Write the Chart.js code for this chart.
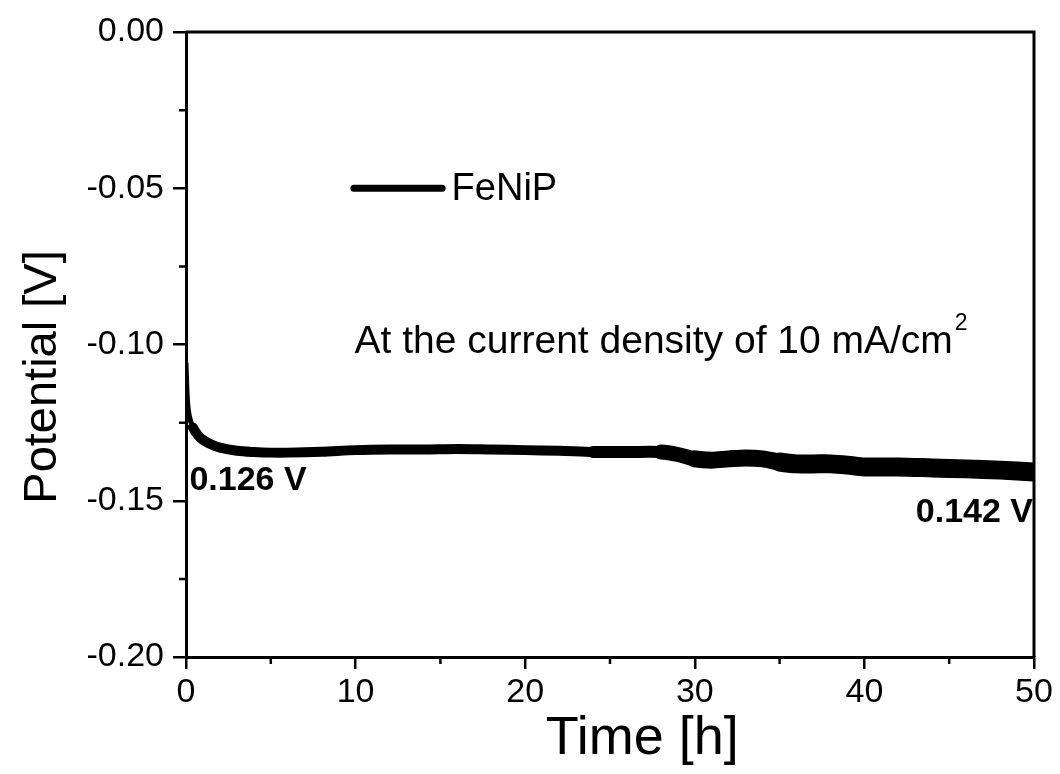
<!DOCTYPE html>
<html>
<head>
<meta charset="utf-8">
<script src="https://cdn.jsdelivr.net/npm/chart.js@4.4.1/dist/chart.umd.min.js"></script>
<style>
  html, body { margin: 0; padding: 0; background: #fff; }
  #wrap { width: 1060px; height: 774px; position: relative; }
</style>
</head>
<body>
<div id="wrap"><canvas id="stabilityChart"></canvas></div>
<script>
// ------------ DATA ------------------------------------
const timeH = [0, 0.05, 0.1, 0.2, 0.4, 0.7, 1.0, 1.5, 2.0, 3.0, 4.0, 5.0, 6.0, 8.0, 10, 12, 14, 16, 18, 20,
    22, 24, 26, 28, 29, 30, 31, 32, 33, 34, 35, 36, 37, 38, 39, 40, 42, 44, 46, 48, 50];
const potentialV = [-0.106, -0.114, -0.119, -0.123, -0.1265, -0.129, -0.1305, -0.132, -0.133, -0.134, -0.1344,
    -0.1346, -0.1346, -0.1343, -0.1338, -0.1336, -0.1336, -0.1334, -0.1336, -0.1338,
    -0.1340, -0.1344, -0.1344, -0.1344, -0.1352, -0.1366, -0.1370, -0.1366, -0.1363, -0.1366,
    -0.1376, -0.1382, -0.1382, -0.1382, -0.1386, -0.1392, -0.1392, -0.1395, -0.1398, -0.1402, -0.1408];
const xMajorTicks = [0, 10, 20, 30, 40, 50];
const xMinorTicks = [5, 15, 25, 35, 45];
const yMajorTicks = [0, -0.05, -0.10, -0.15, -0.20];
const yMinorTicks = [-0.025, -0.075, -0.125, -0.175];
const seriesName = "FeNiP";
const noteText = "At the current density of 10 mA/cm";
const startLabel = "0.126 V";
const endLabel = "0.142 V";

const FONT = '"Liberation Sans", Arial, sans-serif';

// ================== FRAME, MINOR TICKS, TEXT ==================
const framePlugin = {
    id: "framePlugin",
    afterDraw(chart) {
        const { ctx, chartArea: a, scales } = chart;
        const xs = scales.x, ys = scales.y;
        ctx.save();
        ctx.strokeStyle = "#000";
        ctx.lineWidth = 3;
        // top + right border
        ctx.beginPath();
        ctx.moveTo(a.left, a.top);
        ctx.lineTo(a.right, a.top);
        ctx.lineTo(a.right, a.bottom);
        ctx.stroke();

        // minor ticks
        ctx.lineWidth = 2.5;
        ctx.beginPath();
        yMinorTicks.forEach(v => {
            const py = ys.getPixelForValue(v);
            ctx.moveTo(a.left - 7, py);
            ctx.lineTo(a.left, py);
        });
        xMinorTicks.forEach(v => {
            const px = xs.getPixelForValue(v);
            ctx.moveTo(px, a.bottom);
            ctx.lineTo(px, a.bottom + 7);
        });
        ctx.stroke();

        // legend
        ctx.lineCap = "round";
        ctx.lineWidth = 7;
        ctx.beginPath();
        ctx.moveTo(xs.getPixelForValue(9.9), ys.getPixelForValue(-0.05));
        ctx.lineTo(xs.getPixelForValue(15.1), ys.getPixelForValue(-0.05));
        ctx.stroke();

        ctx.fillStyle = "#000";
        ctx.textAlign = "left";
        ctx.textBaseline = "alphabetic";
        ctx.font = `38px ${FONT}`;
        ctx.fillText(seriesName, xs.getPixelForValue(15.66), ys.getPixelForValue(-0.0538));

        // note with superscript
        const nx = xs.getPixelForValue(9.94), ny = ys.getPixelForValue(-0.1027);
        ctx.font = `39px ${FONT}`;
        ctx.fillText(noteText, nx, ny);
        const w = ctx.measureText(noteText).width;
        ctx.font = `23px ${FONT}`;
        ctx.fillText("2", nx + w + 2, ny - 23);

        // bold value labels
        ctx.font = `bold 34px ${FONT}`;
        ctx.fillText(startLabel, xs.getPixelForValue(0.2), ys.getPixelForValue(-0.1466));
        ctx.textAlign = "right";
        ctx.fillText(endLabel, xs.getPixelForValue(49.94), ys.getPixelForValue(-0.1568));

        // axis titles
        ctx.textAlign = "center";
        ctx.font = `54px ${FONT}`;
        ctx.fillText("Time [h]", xs.getPixelForValue(26.9), 754);
        ctx.save();
        ctx.translate(56, ys.getPixelForValue(-0.1104));
        ctx.rotate(-Math.PI / 2);
        ctx.font = `47px ${FONT}`;
        ctx.fillText("Potential [V]", 0, 0);
        ctx.restore();
        ctx.restore();
    }
};

// ================== CHART ==================
const ctx = document.getElementById("stabilityChart");
const stabilityChart = new Chart(ctx, {
    type: "line",
    data: {
        datasets: [{
            label: seriesName,
            data: timeH.map((t, i) => ({ x: t, y: potentialV[i] })),
            borderColor: "#000",
            borderWidth: 10,
            borderCapStyle: "round",
            borderJoinStyle: "round",
            pointRadius: 0,
            tension: 0.3,
            fill: false,
            clip: 0,
            segment: {
                borderWidth: c => {
                    const t = c.p0.parsed.x;
                    if (t < 0.4) return 5;
                    if (t < 24) return 10;
                    if (t < 28) return 12;
                    if (t < 30) return 15;
                    if (t < 35) return 17;
                    return 19;
                }
            }
        }]
    },
    options: {
        responsive: true,
        maintainAspectRatio: false,
        animation: false,
        layout: { padding: { left: 0, top: 32, right: 26, bottom: 0 } },
        plugins: {
            legend: { display: false },
            tooltip: { enabled: false }
        },
        scales: {
            x: {
                type: "linear",
                min: 0,
                max: 50,
                afterFit: s => { s.height = 117; },
                afterBuildTicks: s => { s.ticks = xMajorTicks.map(v => ({ value: v })); },
                border: { display: true, color: "#000", width: 3 },
                grid: { drawOnChartArea: false, color: "#000", tickLength: 12, lineWidth: 2.5 },
                ticks: {
                    color: "#000",
                    font: { family: FONT, size: 34 },
                    padding: 3,
                    maxRotation: 0,
                    callback: v => String(v)
                }
            },
            y: {
                type: "linear",
                min: -0.2,
                max: 0,
                afterFit: s => { s.width = 186; },
                afterBuildTicks: s => { s.ticks = yMajorTicks.map(v => ({ value: v })); },
                border: { display: true, color: "#000", width: 3 },
                grid: { drawOnChartArea: false, color: "#000", tickLength: 13, lineWidth: 2.5 },
                ticks: {
                    color: "#000",
                    font: { family: FONT, size: 34 },
                    padding: 9,
                    callback: v => Number(v).toFixed(2).replace("-0.00", "0.00")
                }
            }
        }
    },
    plugins: [framePlugin]
});
</script>
</body>
</html>
